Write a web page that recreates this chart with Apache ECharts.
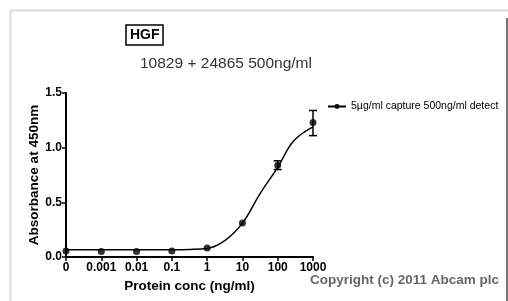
<!DOCTYPE html>
<html>
<head>
<meta charset="utf-8">
<script src="https://cdn.jsdelivr.net/npm/echarts@6/dist/echarts.min.js"></script>
<style>
html,body{margin:0;padding:0;background:#fff;}
#main{width:508px;height:301px;}
</style>
</head>
<body>
<div id="main"></div>
<script>
// x positions are category indexes, labels shown below
var concLabels = ['0', '0.001', '0.01', '0.1', '1', '10', '100', '1000'];
var meanAbs = [0.055, 0.05, 0.05, 0.055, 0.083, 0.31, 0.84, 1.23];
var errLow = [null, null, null, null, null, null, 0.80, 1.11];
var errHigh = [null, null, null, null, null, null, 0.88, 1.34];
// fitted curve (x index, absorbance)
var fitX = [0, 1, 2, 3, 3.5, 4, 4.5, 5, 5.5, 6, 6.45, 7];
var fitY = [0.067, 0.067, 0.067, 0.067, 0.069, 0.078, 0.15, 0.31, 0.58, 0.82, 1.06, 1.19];
var seriesName = '5µg/ml capture 500ng/ml detect';

var myChart = echarts.init(document.getElementById('main'));

var pts = meanAbs.map(function(v, i){ return [i, v]; });
var curve = fitX.map(function(x, i){ return [x, fitY[i]]; });
var errs = [];
for (var i = 0; i < errLow.length; i++) {
	if (errLow[i] != null) errs.push([i, errLow[i], errHigh[i]]);
}

var option = {
	animation: false,
	backgroundColor: '#fff',
	grid: {left: 66, top: 93, width: 247, height: 164},
	legend: {
		data: [seriesName],
		left: 322, top: 96,
		itemWidth: 18, itemHeight: 6, itemGap: 4,
		textStyle: {fontFamily: 'Liberation Sans', fontSize: 10.5, color: '#000'}
	},
	xAxis: {
		type: 'value', min: 0, max: 7, interval: 1,
		name: 'Protein conc (ng/ml)', nameLocation: 'middle', nameGap: 19,
		nameTextStyle: {fontFamily: 'Liberation Sans', fontWeight: 'bold', fontSize: 13.5, color: '#000', verticalAlign: 'top'},
		axisLine: {lineStyle: {color: '#000', width: 2}},
		axisTick: {length: 4, lineStyle: {color: '#000', width: 1.5}},
		axisLabel: {
			margin: 5, fontFamily: 'Liberation Sans', fontWeight: 'bold', fontSize: 12, color: '#000',
			formatter: function(v){ return concLabels[v]; }
		},
		splitLine: {show: false}
	},
	yAxis: {
		type: 'value', min: 0, max: 1.5, interval: 0.5,
		name: 'Absorbance at 450nm', nameLocation: 'middle', nameGap: 22,
		nameTextStyle: {fontFamily: 'Liberation Sans', fontWeight: 'bold', fontSize: 13.5, color: '#000'},
		axisLine: {show: true, lineStyle: {color: '#000', width: 2}},
		axisTick: {show: true, length: 4, lineStyle: {color: '#000', width: 1.5}},
		axisLabel: {
			margin: 4, fontFamily: 'Liberation Sans', fontWeight: 'bold', fontSize: 12, color: '#000',
			formatter: function(v){ return v.toFixed(1); }
		},
		splitLine: {show: false}
	},
	series: [{
		name: seriesName,
		type: 'line',
		data: curve,
		smooth: 0.4,
		symbol: 'circle', symbolSize: 7, showSymbol: false,
		itemStyle: {color: '#000'},
		lineStyle: {color: '#000', width: 1.5}
	}, {
		type: 'scatter',
		data: pts,
		symbol: 'circle', symbolSize: 7,
		itemStyle: {color: '#000'}
	}, {
		type: 'custom',
		data: errs,
		renderItem: function(params, api){
			var lo = api.coord([api.value(0), api.value(1)]);
			var hi = api.coord([api.value(0), api.value(2)]);
			var w = 4;
			var st = {stroke: '#000', lineWidth: 1.5};
			return {type: 'group', children: [
				{type: 'line', shape: {x1: lo[0], y1: lo[1], x2: hi[0], y2: hi[1]}, style: st},
				{type: 'line', shape: {x1: lo[0]-w, y1: lo[1], x2: lo[0]+w, y2: lo[1]}, style: st},
				{type: 'line', shape: {x1: hi[0]-w, y1: hi[1], x2: hi[0]+w, y2: hi[1]}, style: st}
			]};
		}
	}],
	graphic: [
		{type: 'line', shape: {x1: 10, y1: 10.5, x2: 508, y2: 10.5}, style: {stroke: '#ddd', lineWidth: 2}},
		{type: 'line', shape: {x1: 10.5, y1: 10, x2: 10.5, y2: 301}, style: {stroke: '#ddd', lineWidth: 2}},
		{type: 'line', shape: {x1: 507, y1: 18, x2: 507, y2: 301}, style: {stroke: '#444', lineWidth: 1.5}},
		{type: 'rect', shape: {x: 126, y: 25, width: 37, height: 20}, style: {fill: '#fff', stroke: '#000', lineWidth: 1.5}},
		{type: 'text', left: 130, top: 28, style: {text: 'HGF', font: 'bold 14px Liberation Sans', fill: '#000'}},
		{type: 'text', left: 140, top: 56, style: {text: '10829 + 24865 500ng/ml', font: '15.5px Liberation Sans', fill: '#333'}},
		{type: 'text', left: 310, top: 273, style: {text: 'Copyright (c) 2011 Abcam plc', font: 'bold 13.5px Liberation Sans', fill: '#666'}}
	]
};
myChart.setOption(option);
</script>
</body>
</html>
